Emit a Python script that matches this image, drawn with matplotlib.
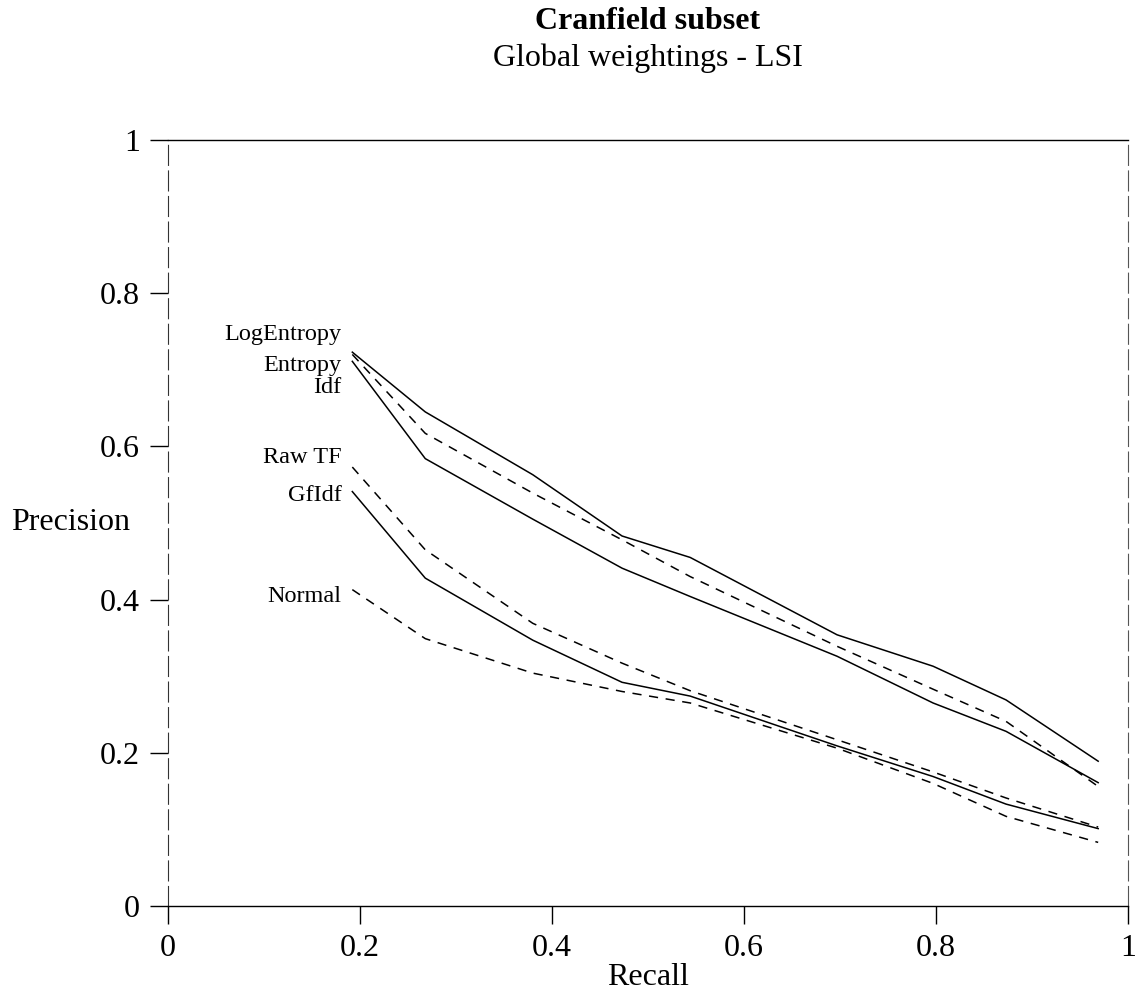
import matplotlib
matplotlib.use("Agg")
import matplotlib.pyplot as plt

plt.rcParams['font.family'] = ['Liberation Serif', 'DejaVu Serif']

recall = [0.192, 0.268, 0.38, 0.473, 0.544, 0.697, 0.797, 0.873, 0.969]

names = ['LogEntropy', 'Entropy', 'Idf', 'Raw TF', 'GfIdf', 'Normal']
log_entropy = [0.723, 0.645, 0.563, 0.483, 0.455, 0.354, 0.313, 0.269, 0.189]
entropy = [0.720, 0.617, 0.539, 0.478, 0.430, 0.339, 0.283, 0.241, 0.156]
idf = [0.711, 0.584, 0.505, 0.441, 0.404, 0.326, 0.265, 0.228, 0.161]
raw_tf = [0.573, 0.465, 0.369, 0.317, 0.281, 0.217, 0.175, 0.141, 0.103]
gfidf = [0.541, 0.428, 0.347, 0.292, 0.274, 0.209, 0.169, 0.133, 0.101]
normal = [0.413, 0.349, 0.304, 0.280, 0.265, 0.206, 0.160, 0.117, 0.083]

series = [log_entropy, entropy, idf, raw_tf, gfidf, normal]
styles = ['-', '--', '-', '--', '-', '--']
label_y = [0.749, 0.709, 0.680, 0.589, 0.539, 0.407]

fig = plt.figure(figsize=(11.36, 9.97), dpi=100)
ax = fig.add_axes([0.1479, 0.0913, 0.845, 0.7683])

for vals, ls, name, ly in zip(series, styles, names, label_y):
    if ls == '--':
        ax.plot(recall, vals, color='black', lw=1.1, linestyle=(0, (6, 5)))
    else:
        ax.plot(recall, vals, color='black', lw=1.1)
    ax.text(0.181, ly, name, ha='right', va='center_baseline', fontsize=17.5)

ax.set_xlim(0, 1)
ax.set_ylim(0, 1)
ax.set_xticks([0, 0.2, 0.4, 0.6, 0.8, 1])
ax.set_xticklabels(['0', '0.2', '0.4', '0.6', '0.8', '1'])
ax.set_yticks([0, 0.2, 0.4, 0.6, 0.8, 1])
ax.set_yticklabels(['0', '0.2', '0.4', '0.6', '0.8', '1'])
ax.tick_params(axis='both', direction='out', length=13, width=1, labelsize=23, pad=7)

ax.spines['left'].set_linestyle((0, (18, 5)))
ax.spines['right'].set_linestyle((0, (18, 5)))
ax.spines['left'].set_color('#333333')
ax.spines['right'].set_color('#555555')
for s in ['top', 'bottom']:
    ax.spines[s].set_linewidth(1)

ax.set_xlabel('Recall', fontsize=23, labelpad=0)
ax.set_ylabel('Precision', fontsize=23, rotation=0, ha='left', va='center')
ax.yaxis.set_label_coords(-0.163, 0.5)

fig.text(0.5704, 0.978, 'Cranfield subset', ha='center', va='center', fontsize=23, fontweight='bold')
fig.text(0.5704, 0.942, 'Global weightings - LSI', ha='center', va='center', fontsize=23)

fig.savefig('out.png', dpi=100)
